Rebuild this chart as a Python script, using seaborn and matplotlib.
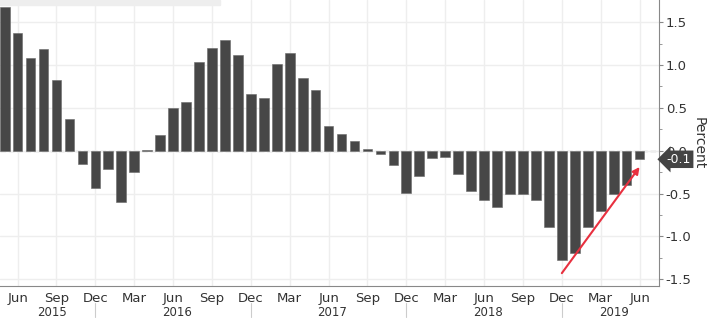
import pandas as pd
import matplotlib
matplotlib.use('Agg')
import matplotlib.pyplot as plt
import matplotlib.transforms as mtrans
import seaborn as sns

# monthly values, May 2015 .. Jun 2019
months = pd.date_range('2015-05-01', '2019-06-01', freq='MS')
values = [1.68, 1.38, 1.08, 1.19, 0.82, 0.37, -0.15, -0.43,
          -0.21, -0.60, -0.25, 0.01, 0.18, 0.50, 0.57, 1.04, 1.20, 1.29, 1.12, 0.66,
          0.61, 1.01, 1.14, 0.85, 0.71, 0.29, 0.20, 0.11, 0.02, -0.04, -0.17, -0.49,
          -0.29, -0.08, -0.07, -0.27, -0.47, -0.57, -0.66, -0.50, -0.50, -0.58, -0.89, -1.28,
          -1.19, -0.89, -0.70, -0.50, -0.40, -0.10]
last_label = '-0.1'
y_ticks = [1.5, 1.0, 0.5, 0.0, -0.5, -1.0, -1.5]
years = ['2015', '2016', '2017', '2018', '2019']

df = pd.DataFrame({'month': months.strftime('%Y-%m'), 'value': values})

sns.set_style('white')
plt.rcParams['font.family'] = ['DejaVu Sans']

fig = plt.figure(figsize=(7.1, 3.19), dpi=100)
ax = fig.add_axes([0.0, 0.1034, 0.928, 0.8966])

sns.barplot(data=df, x='month', y='value', color='#474747', saturation=1,
            width=0.75, edgecolor='#6a6a6a', linewidth=0.4, ax=ax)

n = len(df)
ax.set_xlim(-0.36, n - 1 + 1.49)
ax.set_ylim(-1.58, 1.76)

# month ticks (Jun / Sep / Dec / Mar) and minor monthly ticks
major = [i for i, m in enumerate(months) if m.month in (3, 6, 9, 12)]
ax.set_xticks(major)
ax.set_xticklabels([months[i].strftime('%b') for i in major])
ax.set_xticks(range(n), minor=True)
ax.set_xlabel('')

ax.yaxis.tick_right()
ax.yaxis.set_label_position('right')
ax.set_yticks(y_ticks)
ax.set_yticklabels([f'{t:.1f}' for t in y_ticks])
ax.set_yticks([v / 4 for v in range(-6, 7)], minor=True)
ax.set_ylabel('Percent', rotation=270, labelpad=10, fontsize=10, color='#333333')

ax.tick_params(axis='both', which='major', labelsize=9.5, labelcolor='#333333',
               color='#888888', length=3, width=0.8)
ax.tick_params(axis='both', which='minor', color='#888888', length=2, width=0.6)
ax.tick_params(axis='x', which='major', pad=1.5)
ax.tick_params(axis='y', which='major', pad=2)

for s in ['top', 'left']:
    ax.spines[s].set_visible(False)
for s in ['bottom', 'right']:
    ax.spines[s].set_color('#888888')
    ax.spines[s].set_linewidth(0.8)

ax.grid(True, which='major', color='#eeeeee', linewidth=1)
ax.set_axisbelow(True)
ax.axhline(0, color='#bbbbbb', linewidth=1, linestyle=(0, (4, 2)), zorder=0.5)

# year separators and labels below the axis
trans = mtrans.blended_transform_factory(ax.transData, ax.transAxes)
decs = [i for i, m in enumerate(months) if m.month == 12]
for d in decs:
    ax.plot([d, d], [-0.06, -0.11], transform=trans, color='#cccccc',
            linewidth=0.8, clip_on=False)
bounds = [ax.get_xlim()[0]] + decs + [ax.get_xlim()[1]]
for y, a, b in zip(years, bounds[:-1], bounds[1:]):
    ax.text((a + b) / 2 + 0.3, -0.091, y, transform=trans, ha='center', va='center',
            fontsize=8.5, color='#333333')

# last value tag
tag_trans = mtrans.blended_transform_factory(ax.transAxes, ax.transData)
ax.text(1.012, values[-1], last_label, transform=tag_trans, ha='left', va='center',
        fontsize=9, color='white',
        bbox=dict(boxstyle='larrow,pad=0.18', fc='#444444', ec='none'))

# red trend arrow
ax.annotate('', xy=(n - 1, -0.19), xytext=(decs[-1], -1.43),
            arrowprops=dict(arrowstyle='-|>', color='#e8303f', lw=1.5,
                            mutation_scale=10, shrinkA=0, shrinkB=0))

# faint band at the top left
fig.patches.append(plt.Rectangle((0, 0.985), 0.31, 0.015, transform=fig.transFigure,
                                 color='#eeeeee', zorder=0))

fig.savefig('out.png', dpi=100)
